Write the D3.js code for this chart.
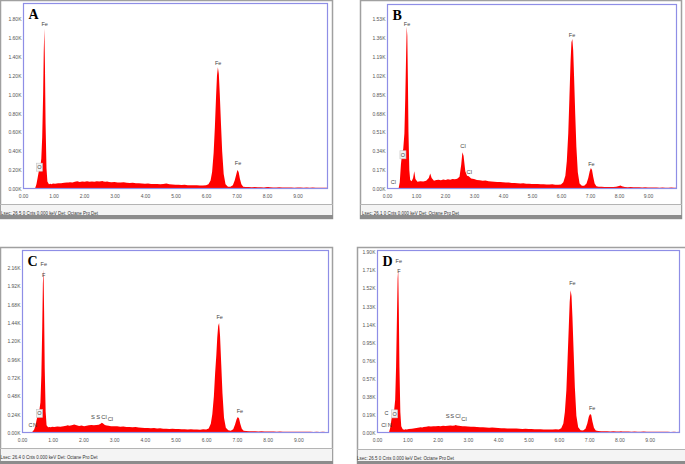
<!DOCTYPE html>
<html>
<head>
<meta charset="utf-8">
<script src="https://cdn.jsdelivr.net/npm/d3@7"></script>
<style>
body { margin: 0; background: #fff; }
svg { display: block; }
</style>
</head>
<body>
<div id="chart"></div>
<script>
// EDS spectra, four samples (counts in thousands vs energy in keV)
var energy = [
	0.00, 0.10, 0.20, 0.25, 0.30, 0.35, 0.40, 0.44, 0.48, 0.52,
	0.56, 0.60, 0.63, 0.66, 0.68, 0.70, 0.72, 0.74, 0.77, 0.80,
	0.85, 0.90, 0.94, 0.98, 1.05, 1.15, 1.25, 1.35, 1.44, 1.49,
	1.54, 1.62, 1.70, 1.78, 1.86, 1.94, 2.02, 2.10, 2.18, 2.26,
	2.34, 2.42, 2.50, 2.56, 2.60, 2.64, 2.70, 2.76, 2.82, 2.90,
	3.00, 3.10, 3.20, 3.30, 3.40, 3.50, 3.60, 3.70, 3.80, 3.90,
	4.00, 4.10, 4.20, 4.30, 4.40, 4.50, 4.60, 4.70, 4.80, 4.90,
	5.00, 5.10, 5.20, 5.30, 5.40, 5.50, 5.60, 5.70, 5.80, 5.90,
	6.00, 6.08, 6.15, 6.20, 6.25, 6.29, 6.33, 6.36, 6.39, 6.42,
	6.45, 6.49, 6.53, 6.58, 6.64, 6.72, 6.80, 6.88, 6.94, 6.99,
	7.03, 7.07, 7.11, 7.16, 7.22, 7.30, 7.40, 7.50, 7.60, 7.70,
	7.80, 7.90, 8.00, 8.05, 8.10, 8.20, 8.30, 8.40, 8.50, 8.60,
	8.70, 8.80, 8.90, 9.00, 9.10, 9.20, 9.30, 9.40, 9.50, 9.60,
	9.70, 9.80, 9.90, 10.00
];

var countsA = [
	0, 0, 0, 0, 0, 0.002, 0.01, 0.05, 0.12, 0.19,
	0.22, 0.32, 0.55, 1.00, 1.45, 1.70, 1.30, 0.70, 0.22, 0.08,
	0.05, 0.055, 0.05, 0.058, 0.055, 0.062, 0.06, 0.066, 0.07, 0.068,
	0.072, 0.07, 0.078, 0.082, 0.075, 0.08, 0.078, 0.083, 0.077, 0.08,
	0.076, 0.082, 0.079, 0.083, 0.086, 0.08, 0.077, 0.079, 0.074, 0.072,
	0.074, 0.07, 0.068, 0.071, 0.066, 0.064, 0.066, 0.061, 0.06, 0.058,
	0.056, 0.058, 0.054, 0.052, 0.053, 0.05, 0.052, 0.057, 0.049, 0.047,
	0.046, 0.045, 0.043, 0.044, 0.041, 0.04, 0.039, 0.04, 0.037, 0.038,
	0.04, 0.05, 0.09, 0.18, 0.38, 0.65, 0.98, 1.20, 1.29, 1.22,
	1.02, 0.70, 0.40, 0.16, 0.05, 0.025, 0.024, 0.04, 0.09, 0.15,
	0.20, 0.18, 0.11, 0.05, 0.025, 0.02, 0.022, 0.019, 0.02, 0.018,
	0.019, 0.017, 0.02, 0.022, 0.018, 0.017, 0.016, 0.018, 0.015, 0.016,
	0.015, 0.017, 0.014, 0.015, 0.016, 0.014, 0.015, 0.013, 0.015, 0.014,
	0.013, 0.014, 0.012, 0.013
];

var countsB = [
	0, 0, 0, 0, 0, 0, 0.005, 0.06, 0.22, 0.32,
	0.36, 0.50, 0.82, 1.22, 1.46, 1.38, 1.00, 0.52, 0.17, 0.08,
	0.07, 0.10, 0.16, 0.09, 0.065, 0.07, 0.068, 0.075, 0.10, 0.14,
	0.10, 0.075, 0.08, 0.084, 0.079, 0.086, 0.081, 0.088, 0.083, 0.09,
	0.087, 0.092, 0.11, 0.22, 0.33, 0.30, 0.16, 0.12, 0.115, 0.095,
	0.09, 0.082, 0.078, 0.074, 0.076, 0.07, 0.068, 0.066, 0.064, 0.062,
	0.06, 0.058, 0.059, 0.055, 0.053, 0.052, 0.05, 0.051, 0.048, 0.047,
	0.046, 0.045, 0.044, 0.043, 0.042, 0.041, 0.04, 0.042, 0.039, 0.038,
	0.04, 0.06, 0.12, 0.25, 0.50, 0.82, 1.15, 1.32, 1.35, 1.25,
	1.02, 0.68, 0.38, 0.15, 0.05, 0.03, 0.03, 0.05, 0.10, 0.16,
	0.19, 0.17, 0.11, 0.05, 0.025, 0.02, 0.02, 0.018, 0.019, 0.017,
	0.018, 0.02, 0.028, 0.032, 0.025, 0.018, 0.016, 0.017, 0.015, 0.016,
	0.015, 0.014, 0.015, 0.013, 0.014, 0.013, 0.014, 0.012, 0.013, 0.012,
	0.012, 0.013, 0.011, 0.012
];

var countsC = [
	0, 0, 0, 0, 0.005, 0.02, 0.05, 0.10, 0.18, 0.25,
	0.28, 0.40, 0.75, 1.40, 1.95, 2.14, 1.60, 0.85, 0.28, 0.10,
	0.075, 0.08, 0.074, 0.082, 0.078, 0.085, 0.083, 0.09, 0.095, 0.10,
	0.094, 0.10, 0.11, 0.10, 0.092, 0.097, 0.09, 0.095, 0.10, 0.105,
	0.10, 0.105, 0.108, 0.12, 0.135, 0.125, 0.105, 0.097, 0.094, 0.09,
	0.088, 0.09, 0.083, 0.086, 0.079, 0.08, 0.075, 0.077, 0.071, 0.069,
	0.067, 0.065, 0.063, 0.064, 0.06, 0.061, 0.057, 0.056, 0.054, 0.055,
	0.052, 0.051, 0.049, 0.05, 0.047, 0.048, 0.045, 0.046, 0.044, 0.048,
	0.046, 0.06, 0.12, 0.25, 0.48, 0.78, 1.02, 1.25, 1.40, 1.44,
	1.28, 0.90, 0.52, 0.20, 0.07, 0.035, 0.03, 0.05, 0.11, 0.18,
	0.21, 0.19, 0.12, 0.055, 0.03, 0.025, 0.024, 0.022, 0.023, 0.021,
	0.022, 0.02, 0.021, 0.02, 0.019, 0.02, 0.018, 0.019, 0.017, 0.018,
	0.017, 0.018, 0.016, 0.017, 0.016, 0.015, 0.016, 0.015, 0.014, 0.015,
	0.014, 0.015, 0.013, 0.014
];

var countsD = [
	0, 0, 0, 0, 0, 0, 0.01, 0.06, 0.15, 0.20,
	0.22, 0.35, 0.70, 1.25, 1.62, 1.72, 1.30, 0.70, 0.22, 0.07,
	0.04, 0.035, 0.04, 0.038, 0.042, 0.045, 0.05, 0.055, 0.06, 0.058,
	0.062, 0.065, 0.07, 0.068, 0.072, 0.07, 0.074, 0.072, 0.076, 0.073,
	0.075, 0.078, 0.076, 0.08, 0.085, 0.08, 0.076, 0.074, 0.072, 0.07,
	0.068, 0.066, 0.065, 0.062, 0.06, 0.061, 0.058, 0.056, 0.057, 0.054,
	0.052, 0.05, 0.051, 0.048, 0.047, 0.046, 0.047, 0.044, 0.043, 0.044,
	0.042, 0.041, 0.04, 0.039, 0.04, 0.038, 0.037, 0.036, 0.037, 0.04,
	0.036, 0.05, 0.10, 0.22, 0.45, 0.78, 1.12, 1.38, 1.50, 1.44,
	1.22, 0.85, 0.48, 0.18, 0.06, 0.03, 0.025, 0.045, 0.10, 0.17,
	0.20, 0.19, 0.12, 0.055, 0.025, 0.02, 0.019, 0.018, 0.019, 0.017,
	0.018, 0.016, 0.017, 0.018, 0.016, 0.015, 0.016, 0.014, 0.015, 0.014,
	0.014, 0.015, 0.013, 0.014, 0.013, 0.012, 0.013, 0.012, 0.013, 0.012,
	0.011, 0.012, 0.011, 0.012
];

// tick values
var xTicks = [0, 1, 2, 3, 4, 5, 6, 7, 8, 9];
var yTicksA = [0, 0.20, 0.40, 0.60, 0.80, 1.00, 1.20, 1.40, 1.60, 1.80];
var yTicksB = [0, 0.17, 0.34, 0.51, 0.68, 0.85, 1.02, 1.19, 1.36, 1.53];
var yTicksC = [0, 0.24, 0.48, 0.72, 0.96, 1.20, 1.44, 1.68, 1.92, 2.16];
var yTicksD = [0, 0.19, 0.38, 0.57, 0.76, 0.95, 1.14, 1.33, 1.52, 1.71, 1.90];

// element markers: [element, keV, counts level, boxed]
var labelsA = [['O', 0.54, 0.21, 1], ['Fe', 0.71, 1.73, 0], ['Fe', 6.40, 1.31, 0], ['Fe', 7.05, 0.25, 0]];
var labelsB = [['Cl', 0.22, 0.045, 0], ['O', 0.55, 0.29, 1], ['Fe', 0.69, 1.47, 0], ['Cl', 2.62, 0.37, 0],
	['Cl', 2.84, 0.135, 0], ['Fe', 6.38, 1.37, 0], ['Fe', 7.05, 0.21, 0]];
var labelsC = [['C', 0.28, 0.08, 0], ['N', 0.42, 0.08, 0], ['O', 0.57, 0.23, 1], ['Fe', 0.71, 2.18, 0],
	['F', 0.71, 2.04, 0], ['S', 2.31, 0.18, 0], ['S', 2.48, 0.18, 0], ['Cl', 2.67, 0.18, 0],
	['Cl', 2.88, 0.16, 0], ['Fe', 6.44, 1.49, 0], ['Fe', 7.10, 0.26, 0]];
var labelsD = [['Cl', 0.23, 0.06, 0], ['C', 0.31, 0.19, 0], ['N', 0.42, 0.065, 0], ['O', 0.58, 0.18, 1],
	['Fe', 0.72, 1.79, 0], ['F', 0.72, 1.68, 0], ['S', 2.33, 0.155, 0], ['S', 2.48, 0.155, 0],
	['Cl', 2.67, 0.155, 0], ['Cl', 2.87, 0.13, 0], ['Fe', 6.45, 1.56, 0], ['Fe', 7.10, 0.24, 0]];

var statusA = 'Lsec: 26.5 0 Cnts  0.000 keV Det: Octane Pro Det';
var statusB = 'Lsec: 26.1 0 Cnts  0.000 keV Det: Octane Pro Det';
var statusC = 'Lsec: 26.4 0 Cnts  0.000 keV Det: Octane Pro Det';
var statusD = 'Lsec: 26.5 0 Cnts  0.000 keV Det: Octane Pro Det';

// layout of the four spectrum windows
var panels = [
	{name: 'A', counts: countsA, yTicks: yTicksA, labels: labelsA, status: statusA,
	 frame: [0, 0, 333, 219], plot: [23, 3, 305, 186], yMax: 1.97, sep: 204, statusX: 1},
	{name: 'B', counts: countsB, yTicks: yTicksB, labels: labelsB, status: statusB,
	 frame: [360, 0, 322, 219], plot: [387, 4, 290, 185], yMax: 1.665, sep: 204, statusX: 362},
	{name: 'C', counts: countsC, yTicks: yTicksC, labels: labelsC, status: statusC,
	 frame: [0, 247, 333, 218], plot: [22, 250, 307, 183], yMax: 2.396, sep: 448, statusX: 0.5},
	{name: 'D', counts: countsD, yTicks: yTicksD, labels: labelsD, status: statusD,
	 frame: [357, 247, 330, 218], plot: [377, 250, 303, 183], yMax: 1.923, sep: 449, statusX: 357}
];

var svg = d3.select('#chart')
	.append('svg')
	.attr('width', 685)
	.attr('height', 464);

panels.forEach(function(p, i) {
	var f = p.frame, pl = p.plot;
	var g = svg.append('g');

	// window frame
	g.append('rect')
	    .attr('x', f[0] + 0.5).attr('y', f[1] + 0.5)
	    .attr('width', f[2] - 1).attr('height', f[3] - 1)
	    .attr('fill', '#fff')
	    .attr('stroke', '#a0a0a0')
	    .attr('stroke-width', 1.5);
	g.append('rect')
	    .attr('x', f[0] + 1).attr('y', p.sep)
	    .attr('width', f[2] - 2).attr('height', f[1] + f[3] - 4 - p.sep)
	    .attr('fill', '#f4f4f4');
	g.append('line')
	    .attr('x1', f[0]).attr('x2', f[0] + f[2])
	    .attr('y1', p.sep + 0.5).attr('y2', p.sep + 0.5)
	    .attr('stroke', '#b4b4b4');
	g.append('rect')
	    .attr('x', f[0]).attr('y', f[1] + f[3] - 4)
	    .attr('width', f[2]).attr('height', 4)
	    .attr('fill', '#8c8c8c');
	g.append('text')
	    .attr('x', p.statusX).attr('y', p.sep + 11)
	    .attr('textLength', 97)
	    .attr('lengthAdjust', 'spacingAndGlyphs')
	    .style('font-family', 'Liberation Sans, Arial, sans-serif')
	    .style('font-size', '5.5px')
	    .style('fill', '#333')
	    .text(p.status);

	var x = d3.scaleLinear().domain([0, 10]).range([pl[0], pl[0] + pl[2]]);
	var y = d3.scaleLinear().domain([0, p.yMax]).range([pl[1] + pl[3], pl[1]]);

	var clipId = 'clip' + i;
	g.append('clipPath').attr('id', clipId)
	    .append('rect')
	    .attr('x', pl[0]).attr('y', pl[1])
	    .attr('width', pl[2]).attr('height', pl[3]);

	var area = d3.area()
		.x(function(d, j) { return x(energy[j]); })
		.y0(y(0))
		.y1(function(d) { return y(d); });

	g.append('path')
	    .datum(p.counts)
	    .attr('clip-path', 'url(#' + clipId + ')')
	    .attr('d', area)
	    .attr('fill', '#ff0000');

	// plot border
	g.append('rect')
	    .attr('x', pl[0] + 0.5).attr('y', pl[1] + 0.5)
	    .attr('width', pl[2] - 1).attr('height', pl[3] - 1)
	    .attr('fill', 'none')
	    .attr('stroke', '#8e8ee6')
	    .attr('stroke-width', 1.2);

	var yAxis = g.append('g')
	    .attr('transform', 'translate(' + pl[0] + ',0)')
	    .call(d3.axisLeft(y).tickValues(p.yTicks).tickSize(0).tickPadding(1.5)
		.tickFormat(function(d) { return d.toFixed(2) + 'K'; }));
	var xAxis = g.append('g')
	    .attr('transform', 'translate(0,' + (pl[1] + pl[3]) + ')')
	    .call(d3.axisBottom(x).tickValues(xTicks).tickSize(0).tickPadding(5.5)
		.tickFormat(function(d) { return d.toFixed(2); }));
	[xAxis, yAxis].forEach(function(ax) {
		ax.select('.domain').remove();
		ax.selectAll('text')
		    .style('font-family', 'Liberation Sans, Arial, sans-serif')
		    .style('font-size', '5px')
		    .style('fill', '#555');
	});

	// element markers
	p.labels.forEach(function(l) {
		var lx = x(l[1]), ly = y(l[2]);
		if (l[3]) {
			g.append('rect')
			    .attr('x', lx - 3).attr('y', ly - 6)
			    .attr('width', 6).attr('height', 8)
			    .attr('fill', '#f2f2f2')
			    .attr('stroke', '#c4c4c4')
			    .attr('stroke-width', 0.6);
		}
		var big = (l[0] == 'S' || l[0] == 'Cl') && l[1] > 2;
		g.append('text')
		    .attr('x', lx).attr('y', ly)
		    .attr('text-anchor', 'middle')
		    .style('font-family', 'Liberation Sans, Arial, sans-serif')
		    .style('font-size', big ? '5.8px' : '5.5px')
		    .style('fill', '#444')
		    .text(l[0]);
	});

	// panel letter
	g.append('text')
	    .attr('x', pl[0] + 5.5).attr('y', pl[1] + 16)
	    .style('font-family', 'Liberation Serif, Times New Roman, serif')
	    .style('font-weight', 'bold')
	    .style('font-size', '14px')
	    .style('fill', '#000')
	    .text(p.name);
});
</script>
</body>
</html>
